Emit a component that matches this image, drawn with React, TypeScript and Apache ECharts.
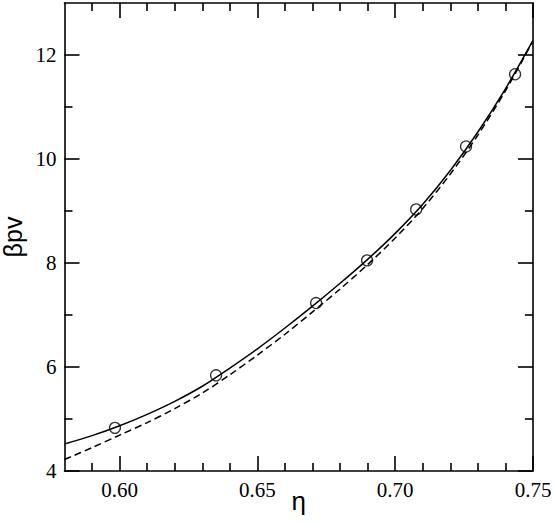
import React, { useEffect, useRef } from "react";
import * as echarts from "echarts";

const eta = [0.58, 0.59, 0.6, 0.61, 0.62, 0.63, 0.64, 0.65, 0.66, 0.67, 0.68, 0.69, 0.7, 0.71, 0.72, 0.73, 0.74, 0.75];
const solidBetaPV = [4.52, 4.68, 4.87, 5.09, 5.34, 5.63, 5.98, 6.35, 6.75, 7.17, 7.61, 8.07, 8.57, 9.13, 9.78, 10.52, 11.35, 12.28];
const dashedBetaPV = [4.22, 4.45, 4.69, 4.93, 5.2, 5.5, 5.85, 6.23, 6.63, 7.06, 7.5, 7.97, 8.48, 9.05, 9.71, 10.46, 11.31, 12.27];
const simEta = [0.5983, 0.635, 0.6713, 0.6898, 0.7076, 0.7257, 0.7435];
const simBetaPV = [4.83, 5.84, 7.23, 8.05, 9.03, 10.24, 11.63];

const xMajorTicks = [0.6, 0.65, 0.7, 0.75];
const xMinorTicks = [0.59, 0.61, 0.62, 0.63, 0.64, 0.66, 0.67, 0.68, 0.69, 0.71, 0.72, 0.73, 0.74];
const yMajorTicks = [4, 6, 8, 10, 12];
const yMinorTicks = [5, 7, 9, 11];

const INK = "#000";
const SERIF = "Liberation Serif, serif";
const SANS = "Liberation Sans, sans-serif";

function xAxisDef(position: "bottom" | "top", ticks: number[], len: number, main: boolean) {
  return {
    type: "value",
    position,
    min: 0.58,
    max: 0.75,
    splitLine: { show: false },
    axisLine: { show: main, onZero: false, lineStyle: { color: INK, width: 1.6 } },
    axisTick: { show: true, inside: true, length: len, customValues: ticks, lineStyle: { color: INK, width: 1.6 } },
    axisLabel: main && position === "bottom"
      ? { show: true, customValues: xMajorTicks, formatter: (v: number) => v.toFixed(2), color: INK, fontFamily: SERIF, fontSize: 21, margin: 8 }
      : { show: false },
    name: main && position === "bottom" ? "η" : "",
    nameLocation: "middle",
    nameGap: 16,
    nameMoveOverlap: false,
    nameTextStyle: { color: INK, fontFamily: SANS, fontSize: 26, lineHeight: 28 },
  };
}

function yAxisDef(position: "left" | "right", ticks: number[], len: number, main: boolean) {
  return {
    type: "value",
    position,
    min: 4,
    max: 13,
    splitLine: { show: false },
    axisLine: { show: main, onZero: false, lineStyle: { color: INK, width: 1.6 } },
    axisTick: { show: true, inside: true, length: len, customValues: ticks, lineStyle: { color: INK, width: 1.6 } },
    axisLabel: main && position === "left"
      ? { show: true, customValues: yMajorTicks, formatter: (v: number) => String(v), color: INK, fontFamily: SERIF, fontSize: 21, margin: 8 }
      : { show: false },
    name: main && position === "left" ? "βpv" : "",
    nameLocation: "middle",
    nameGap: 40,
    nameMoveOverlap: false,
    nameRotate: 90,
    nameTextStyle: { color: INK, fontFamily: SANS, fontSize: 25, lineHeight: 24 },
  };
}

export default function App() {
  const ref = useRef<HTMLDivElement>(null);
  useEffect(() => {
    if (!ref.current) return;
    const chart = echarts.init(ref.current, null, { renderer: "svg" });
    chart.setOption({
      animation: false,
      backgroundColor: "#fff",
      textStyle: { fontFamily: SERIF },
      grid: { left: 64.5, right: 21, top: 3, bottom: 53, containLabel: false, outerBoundsMode: "none" },
      xAxis: [
        xAxisDef("bottom", xMajorTicks, 15, true),
        xAxisDef("bottom", xMinorTicks, 8, false),
        xAxisDef("top", xMajorTicks, 15, true),
        xAxisDef("top", xMinorTicks, 8, false),
      ],
      yAxis: [
        yAxisDef("left", yMajorTicks, 15, true),
        yAxisDef("left", yMinorTicks, 8, false),
        yAxisDef("right", yMajorTicks, 15, true),
        yAxisDef("right", yMinorTicks, 8, false),
      ],
      series: [
        {
          type: "line",
          xAxisIndex: 0,
          yAxisIndex: 0,
          data: eta.map((x, i) => [x, solidBetaPV[i]]),
          showSymbol: false,
          smooth: 0.3,
          lineStyle: { color: INK, width: 1.5 },
        },
        {
          type: "line",
          xAxisIndex: 0,
          yAxisIndex: 0,
          data: eta.map((x, i) => [x, dashedBetaPV[i]]),
          showSymbol: false,
          smooth: 0.3,
          lineStyle: { color: INK, width: 1.5, type: [7, 4] },
        },
        {
          type: "scatter",
          xAxisIndex: 0,
          yAxisIndex: 0,
          data: simEta.map((x, i) => [x, simBetaPV[i]]),
          symbol: "circle",
          symbolSize: 11,
          itemStyle: { color: "rgba(0,0,0,0)", borderColor: INK, borderWidth: 1.3 },
        },
      ],
    });
    return () => chart.dispose();
  }, []);
  return <div ref={ref} style={{ position: "fixed", left: 0, top: 0, width: 554, height: 524 }} />;
}
